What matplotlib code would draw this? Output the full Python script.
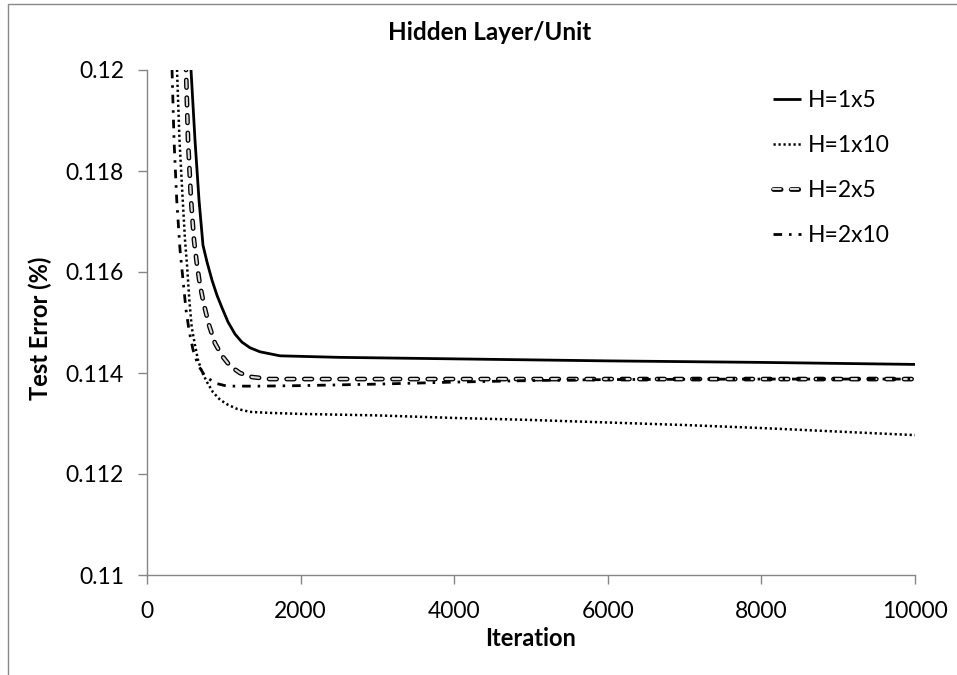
"""Hidden layer / unit test error curves, redrawn with matplotlib"""
import matplotlib
matplotlib.use('Agg')
import matplotlib.pyplot as plt
from matplotlib.patches import Rectangle

plt.rcParams['font.family'] = ['Lato', 'DejaVu Sans']
plt.rcParams['lines.scale_dashes'] = False

# values
iters_1x5 = [540, 573, 625, 677, 729, 781, 846, 911, 977, 1055, 1146, 1237, 1341, 1471, 1732,
             2500, 4000, 6000, 8000, 10000]
err_1x5 = [0.1205, 0.1200, 0.11861, 0.11743, 0.11653, 0.1162, 0.11584, 0.11554, 0.11529,
           0.11501, 0.11477, 0.11461, 0.1145, 0.11442, 0.11434,
           0.11431, 0.11428, 0.11424, 0.11421, 0.11417]

iters_1x10 = [375, 391, 423, 465, 495, 521, 551, 582, 625, 664, 716, 781, 859, 951, 1055, 1172,
              1341, 1602, 2000, 3000, 4000, 5000, 6000, 7000, 8000, 9000, 10000]
err_1x10 = [0.1205, 0.1200, 0.11861, 0.11743, 0.11663, 0.11614, 0.11545, 0.11491, 0.11455,
            0.11426, 0.11402, 0.11382, 0.11362, 0.11347, 0.11337, 0.11329, 0.11323, 0.11321,
            0.11319, 0.11316, 0.11311, 0.11307, 0.11302, 0.11297, 0.11291, 0.11284, 0.11277]

iters_2x5 = [490, 508, 534, 573, 612, 651, 690, 742, 807, 885, 977, 1081, 1211, 1367, 1602,
             2500, 4000, 6000, 8000, 10000]
err_2x5 = [0.1205, 0.1200, 0.11861, 0.11743, 0.11663, 0.11614, 0.11574, 0.11535, 0.11495,
           0.11459, 0.11434, 0.11414, 0.114, 0.11392, 0.11388,
           0.11388, 0.11388, 0.11388, 0.11388, 0.11388]

iters_2x10 = [310, 326, 352, 387, 430, 469, 508, 547, 599, 664, 755, 885, 1042, 1471,
              2000, 3000, 4000, 5000, 6000, 8000, 10000]
err_2x10 = [0.1205, 0.1200, 0.11861, 0.11743, 0.11644, 0.11584, 0.11525, 0.11485, 0.11446,
            0.11416, 0.11394, 0.1138, 0.11374, 0.11374,
            0.11375, 0.11378, 0.11382, 0.11385, 0.11387, 0.11388, 0.11388]

series_labels = ['H=1x5', 'H=1x10', 'H=2x5', 'H=2x10']
x_ticks = [0, 2000, 4000, 6000, 8000, 10000]
y_ticks = [0.11, 0.112, 0.114, 0.116, 0.118, 0.12]
y_tick_labels = ['0.11', '0.112', '0.114', '0.116', '0.118', '0.12']

W, H = 957, 675
fig = plt.figure(figsize=(W / 100, H / 100), dpi=100)
fig.patch.set_facecolor('white')
# chart-area border (only top and left are inside the crop)
fig.patches.append(Rectangle((8 / W, -0.1), 1.2, 1.1 - 4 / H, transform=fig.transFigure,
                             fill=False, edgecolor='#898989', lw=1.0))

ax = fig.add_axes([147 / W, 1 - 575 / H, 768 / W, 505 / H])

l1, = ax.plot(iters_1x5, err_1x5, color='black', lw=2.0, solid_capstyle='butt',
              solid_joinstyle='round')
l2, = ax.plot(iters_1x10, err_1x10, color='black', lw=1.8, linestyle=(0, (1.6, 2.0)),
              dash_capstyle='butt')
l3a, = ax.plot(iters_2x5, err_2x5, color='black', lw=3.4, linestyle=(0, (5.5, 7.2)),
               dash_capstyle='round')
l3b, = ax.plot(iters_2x5, err_2x5, color='#dcdcdc', lw=1.5, linestyle=(0, (5.5, 7.2)),
               dash_capstyle='round')
l4, = ax.plot(iters_2x10, err_2x10, color='black', lw=2.0, linestyle=(0, (6.2, 5, 1.8, 5)),
              dash_capstyle='butt')

ax.set_xlim(0, 10000)
ax.set_ylim(0.11, 0.12)
ax.set_xticks(x_ticks)
ax.set_xticklabels([str(v) for v in x_ticks])
ax.set_yticks(y_ticks)
ax.set_yticklabels(y_tick_labels)

for side in ['top', 'right']:
    ax.spines[side].set_visible(False)
for side in ['left', 'bottom']:
    ax.spines[side].set_color('#868686')
    ax.spines[side].set_linewidth(1.0)
ax.tick_params(axis='both', direction='out', length=6.5, width=1.0, color='#868686',
               labelsize=16.5, labelcolor='black')
ax.tick_params(axis='y', pad=10)
ax.tick_params(axis='x', pad=12)

fig.text(490 / W, 1 - 32 / H, 'Hidden Layer/Unit', ha='center', va='center',
         fontsize=17.5, fontweight='bold')
fig.text(531 / W, 1 - 638 / H, 'Iteration', ha='center', va='center',
         fontsize=17, fontweight='bold')
fig.text(40 / W, 1 - 328 / H, 'Test Error (%)', ha='center', va='center', rotation=90,
         fontsize=17, fontweight='bold')

leg = ax.legend([l1, l2, (l3a, l3b), l4], series_labels, loc='upper left',
                bbox_to_anchor=(773 / W, 1 - 90 / H), bbox_transform=fig.transFigure,
                frameon=False, fontsize=16.5, handlelength=1.2, handletextpad=0.3,
                labelspacing=1.05, borderpad=0, borderaxespad=0)

fig.savefig('out.png', dpi=100)
plt.close(fig)
